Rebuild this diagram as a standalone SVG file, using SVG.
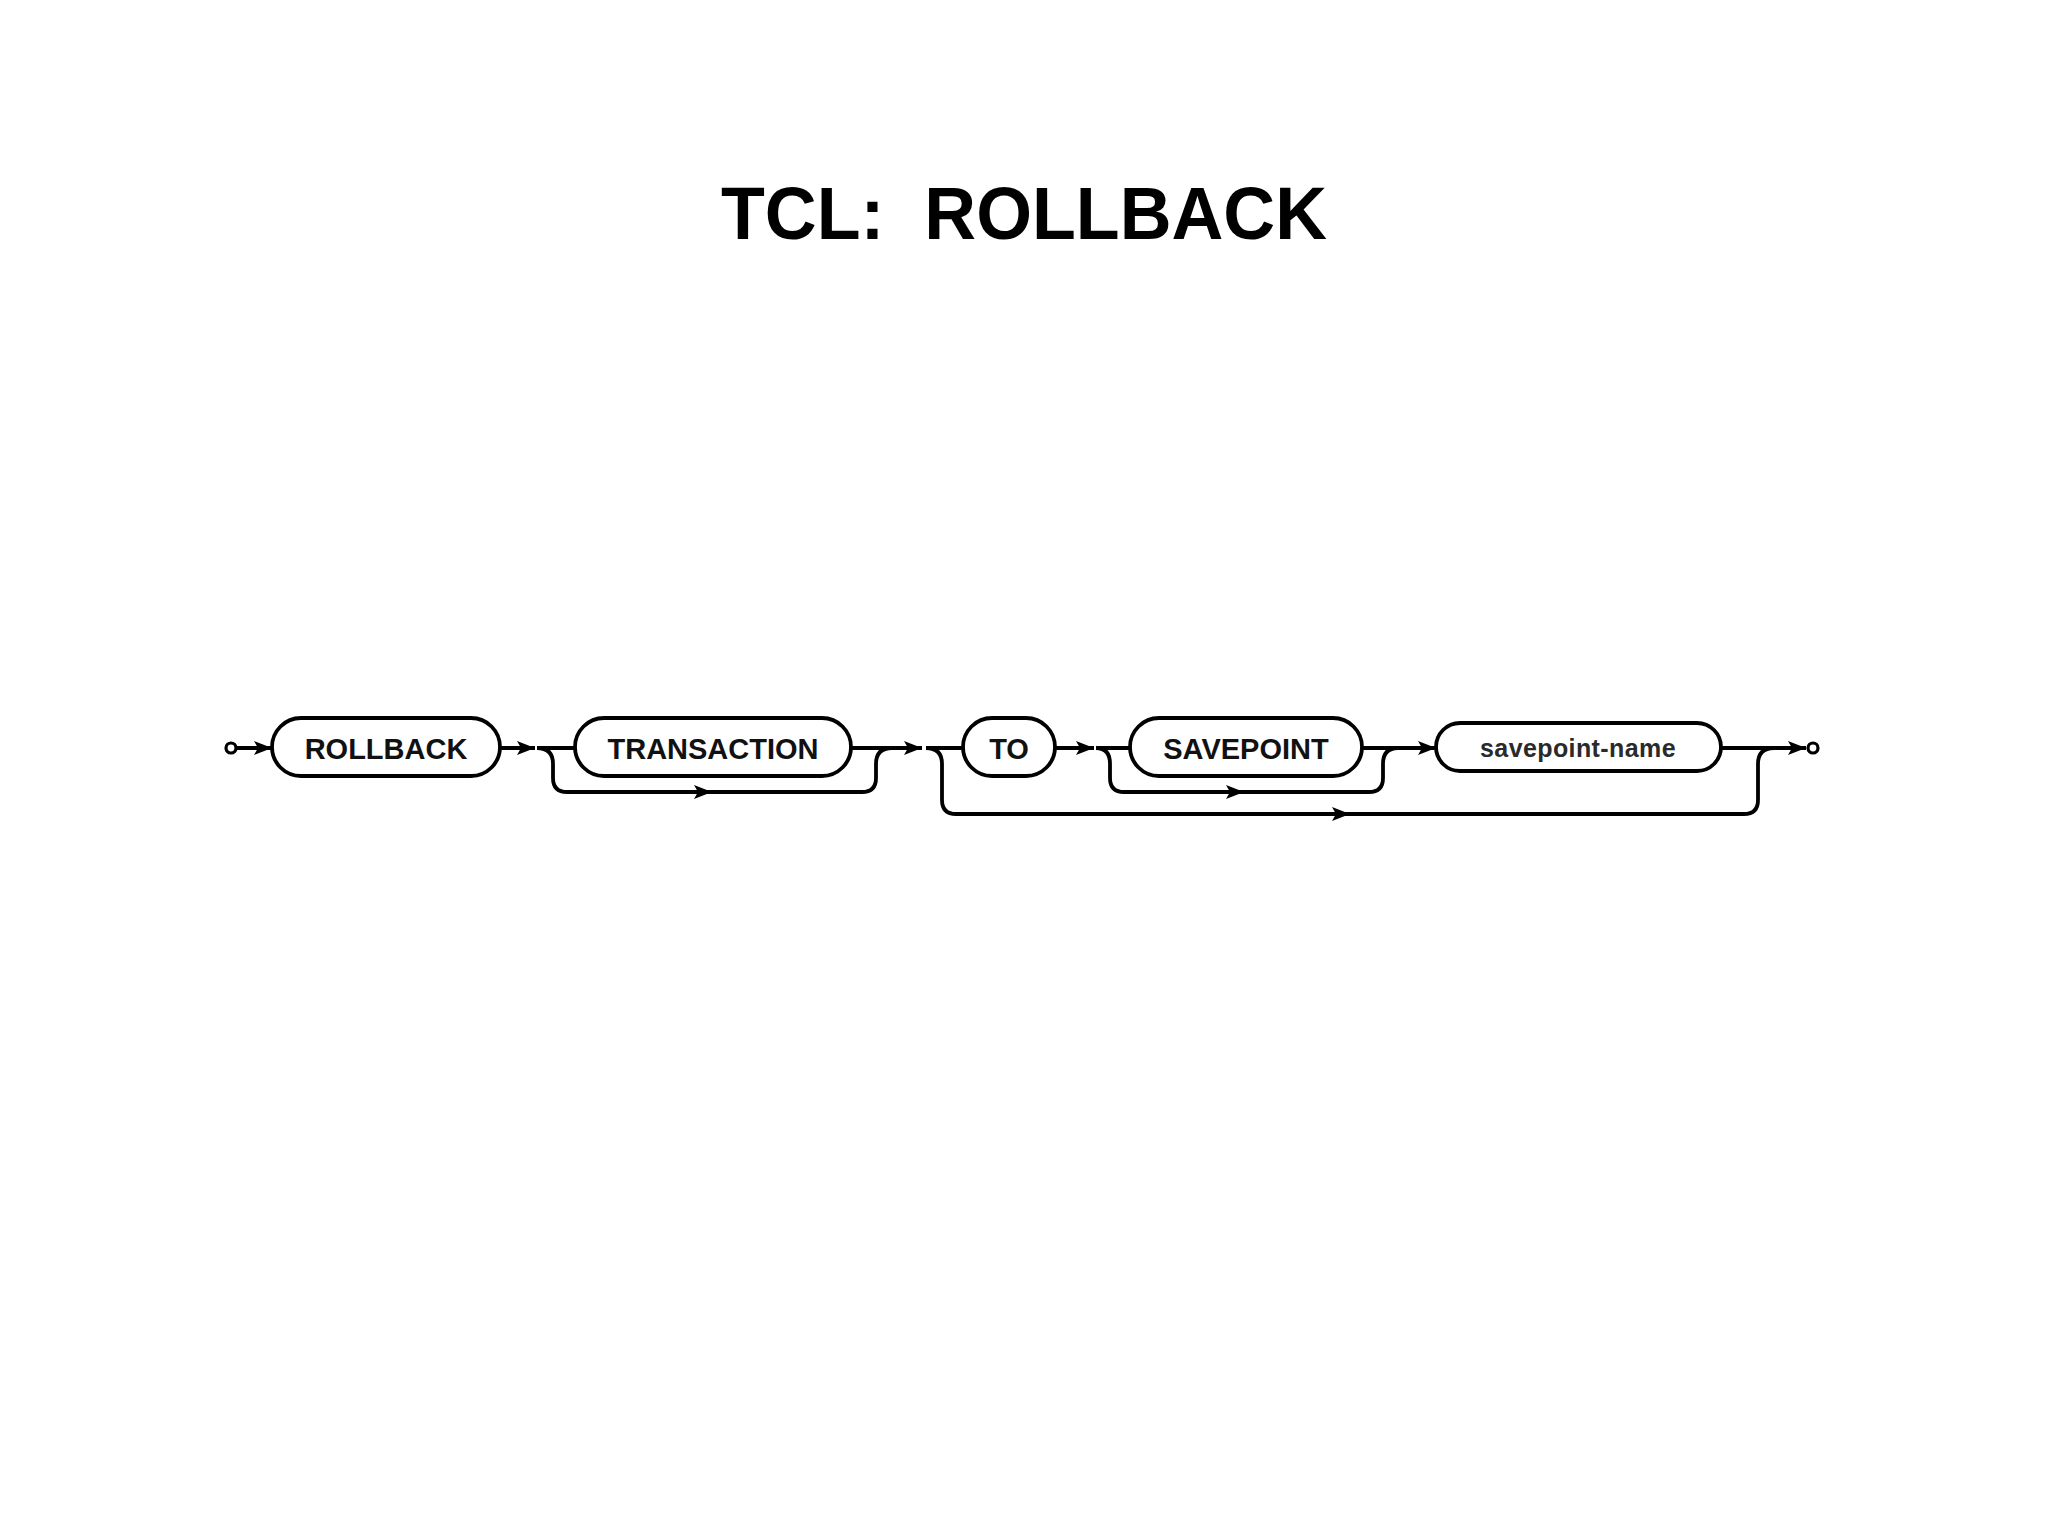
<svg xmlns="http://www.w3.org/2000/svg" width="2048" height="1536" viewBox="0 0 2048 1536">
<style>
.box{fill:#fff;stroke:#000;stroke-width:3.8}
.ln{fill:none;stroke:#000;stroke-width:3.8;stroke-linejoin:round}
.kw{font-family:"Liberation Sans",Arial,sans-serif;font-weight:bold;font-size:29px;text-anchor:middle;fill:#111}
.nt{font-family:"Liberation Sans",Arial,sans-serif;font-weight:bold;font-size:25px;letter-spacing:0.4px;text-anchor:middle;fill:#2a2a2a}
.title{font-family:"Liberation Sans",Arial,sans-serif;font-weight:bold;font-size:74px;text-anchor:middle;fill:#000}
</style>
<defs>
<marker id="ah" markerUnits="userSpaceOnUse" markerWidth="20" markerHeight="16" refX="18" refY="8" orient="auto">
<path d="M0,1 L18,8 L0,15 L4,8 z" fill="#000"/>
</marker>
</defs>
<rect width="2048" height="1536" fill="#fff"/>
<text class="title" x="1024" y="239" textLength="606" lengthAdjust="spacingAndGlyphs" xml:space="preserve">TCL:  ROLLBACK</text>

<g id="connectors">
<circle cx="231" cy="748" r="5" fill="#fff" stroke="#000" stroke-width="3.2"/>
<line class="ln" x1="236" y1="748" x2="272" y2="748" marker-end="url(#ah)"/>
<line class="ln" x1="500" y1="748" x2="535" y2="748" marker-end="url(#ah)"/>
<line class="ln" x1="537" y1="748" x2="575" y2="748"/>
<path class="ln" d="M537,748 Q553,748 553,764 L553,778 Q553,792 567,792 L712,792" marker-end="url(#ah)"/>
<path class="ln" d="M704,792 L862,792 Q876,792 876,778 L876,764 Q876,748 892,748"/>
<line class="ln" x1="851" y1="748" x2="922" y2="748" marker-end="url(#ah)"/>
<line class="ln" x1="926" y1="748" x2="963" y2="748"/>
<path class="ln" d="M926,748 Q942,748 942,764 L942,800 Q942,814 956,814 L1350,814" marker-end="url(#ah)"/>
<path class="ln" d="M1342,814 L1744,814 Q1758,814 1758,800 L1758,764 Q1758,748 1774,748"/>
<line class="ln" x1="1055" y1="748" x2="1094" y2="748" marker-end="url(#ah)"/>
<line class="ln" x1="1096" y1="748" x2="1130" y2="748"/>
<path class="ln" d="M1096,748 Q1110,748 1110,764 L1110,778 Q1110,792 1124,792 L1244,792" marker-end="url(#ah)"/>
<path class="ln" d="M1236,792 L1369,792 Q1383,792 1383,778 L1383,764 Q1383,748 1398,748"/>
<line class="ln" x1="1362" y1="748" x2="1436" y2="748" marker-end="url(#ah)"/>
<line class="ln" x1="1721" y1="748" x2="1806" y2="748" marker-end="url(#ah)"/>
<circle cx="1813" cy="748" r="5" fill="#fff" stroke="#000" stroke-width="3.2"/>
</g>

<g id="node-rollback">
<rect class="box" x="272" y="718" width="228" height="58" rx="29"/>
<text class="kw" x="386" y="759">ROLLBACK</text>
</g>
<g id="node-transaction">
<rect class="box" x="575" y="718" width="276" height="58" rx="29"/>
<text class="kw" x="713" y="759">TRANSACTION</text>
</g>
<g id="node-to">
<rect class="box" x="963" y="718" width="92" height="58" rx="29"/>
<text class="kw" x="1009" y="759">TO</text>
</g>
<g id="node-savepoint">
<rect class="box" x="1130" y="718" width="232" height="58" rx="29"/>
<text class="kw" x="1246" y="759">SAVEPOINT</text>
</g>
<g id="node-savepoint-name">
<rect class="box" x="1436" y="723" width="285" height="48" rx="24"/>
<text class="nt" x="1578" y="757">savepoint-name</text>
</g>
</svg>
